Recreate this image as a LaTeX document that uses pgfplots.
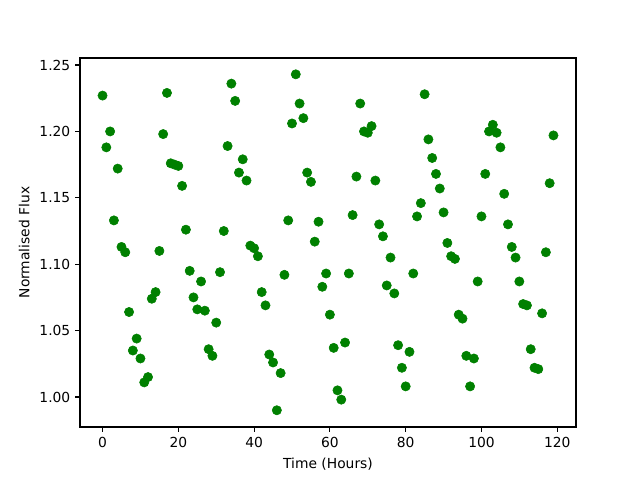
\documentclass[border=0pt]{standalone}
\usepackage{pgfplots}
\pgfplotsset{compat=1.18}
\usepackage{fontspec}
\setmainfont{DejaVu Sans}
\begin{document}
\fontsize{10pt}{12pt}\selectfont
\begin{tikzpicture}
\begin{axis}[
  scale only axis,
  width=4.96in, height=3.69in,
  xmin=-5.95, xmax=124.95,
  ymin=0.9774, ymax=1.2553,
  xtick={0,20,40,60,80,100,120},
  ytick={1.00,1.05,1.10,1.15,1.20,1.25},
  yticklabel style={/pgf/number format/.cd,fixed,fixed zerofill,precision=2},
  /pgf/number format/assume math mode=true,
  tick align=outside,
  major tick length=3.5pt,
  tick style={black, line width=0.8pt},
  xtick pos=bottom, ytick pos=left,
  axis line style={line width=0.8pt},
  xlabel={Time (Hours)},
  ylabel={Normalised Flux},
  tick label style={font=\fontsize{10pt}{12pt}\selectfont},
  label style={font=\fontsize{10pt}{12pt}\selectfont},
  every axis x label/.style={at={(axis description cs:0.5,0)}, anchor=north, yshift=-18.5pt},
  every axis y label/.style={at={(axis description cs:0,0.5)}, anchor=south, rotate=90, xshift=0pt, yshift=33pt},
]
\addplot[only marks, mark=*, mark size=3.35pt, color={rgb,255:red,0;green,128;blue,0}, mark options={draw={rgb,255:red,0;green,128;blue,0}, fill={rgb,255:red,0;green,128;blue,0}}] coordinates {
(0,1.227)(1,1.188)(2,1.200)(3,1.133)(4,1.172)(5,1.113)(6,1.109)(7,1.064)(8,1.035)(9,1.044)
(10,1.029)(11,1.011)(12,1.015)(13,1.074)(14,1.079)(15,1.110)(16,1.198)(17,1.229)(18,1.176)(19,1.175)
(20,1.174)(21,1.159)(22,1.126)(23,1.095)(24,1.075)(25,1.066)(26,1.087)(27,1.065)(28,1.036)(29,1.031)
(30,1.056)(31,1.094)(32,1.125)(33,1.189)(34,1.236)(35,1.223)(36,1.169)(37,1.179)(38,1.163)(39,1.114)
(40,1.112)(41,1.106)(42,1.079)(43,1.069)(44,1.032)(45,1.026)(46,0.990)(47,1.018)(48,1.092)(49,1.133)
(50,1.206)(51,1.243)(52,1.221)(53,1.210)(54,1.169)(55,1.162)(56,1.117)(57,1.132)(58,1.083)(59,1.093)
(60,1.062)(61,1.037)(62,1.005)(63,0.998)(64,1.041)(65,1.093)(66,1.137)(67,1.166)(68,1.221)(69,1.200)
(70,1.199)(71,1.204)(72,1.163)(73,1.130)(74,1.121)(75,1.084)(76,1.105)(77,1.078)(78,1.039)(79,1.022)
(80,1.008)(81,1.034)(82,1.093)(83,1.136)(84,1.146)(85,1.228)(86,1.194)(87,1.180)(88,1.168)(89,1.157)
(90,1.139)(91,1.116)(92,1.106)(93,1.104)(94,1.062)(95,1.059)(96,1.031)(97,1.008)(98,1.029)(99,1.087)
(100,1.136)(101,1.168)(102,1.200)(103,1.205)(104,1.199)(105,1.188)(106,1.153)(107,1.130)(108,1.113)(109,1.105)
(110,1.087)(111,1.070)(112,1.069)(113,1.036)(114,1.022)(115,1.021)(116,1.063)(117,1.109)(118,1.161)(119,1.197)
};
\end{axis}
\path (current axis.south west) ++(-0.80in,-0.53in) coordinate (bl);
\path (current axis.north east) ++(0.64in,0.58in) coordinate (tr);
\useasboundingbox (bl) rectangle (tr);
\end{tikzpicture}
\end{document}
